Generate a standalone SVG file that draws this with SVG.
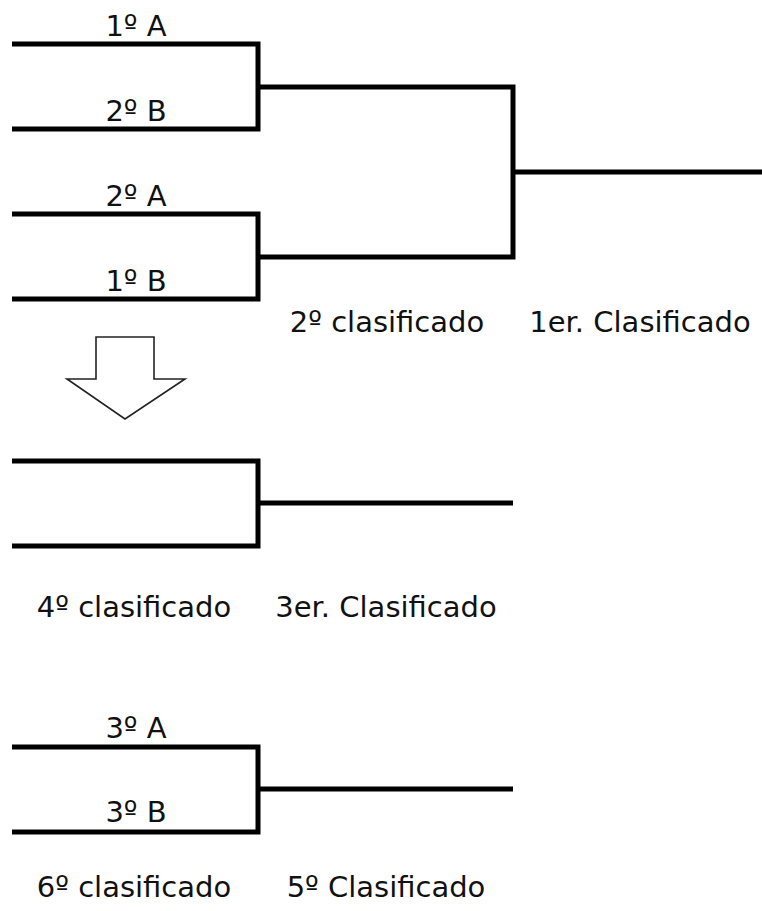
<svg xmlns="http://www.w3.org/2000/svg" width="762" height="911" viewBox="0 0 762 911">
<style>
.ln{fill:none;stroke:#000;stroke-width:5;stroke-linejoin:miter;stroke-linecap:butt}
.t{font-family:"DejaVu Sans","Verdana",sans-serif;font-size:29px;fill:#111;text-anchor:middle}
.arrow{fill:#fff;stroke:#222;stroke-width:1.6;stroke-linejoin:miter}
</style>
<rect width="762" height="911" fill="#fff"/>
<g id="connectors">
<polyline class="ln" points="12,44 258,44 258,129 12,129"/>
<polyline class="ln" points="12,214 258,214 258,299 12,299"/>
<polyline class="ln" points="258,87 513,87 513,257 258,257"/>
<line class="ln" x1="513" y1="172" x2="762" y2="172"/>
<polyline class="ln" points="12,461 258,461 258,546 12,546"/>
<line class="ln" x1="258" y1="503" x2="513" y2="503"/>
<polyline class="ln" points="12,747 258,747 258,832 12,832"/>
<line class="ln" x1="258" y1="789" x2="513" y2="789"/>
</g>
<g id="arrow-down">
<polygon class="arrow" points="96,337 154,337 154,379 185,379 125,419 67,379 96,379"/>
</g>
<g id="n-1A"><text class="t" x="136" y="36">1º A</text></g>
<g id="n-2B"><text class="t" x="136" y="121">2º B</text></g>
<g id="n-2A"><text class="t" x="136" y="206">2º A</text></g>
<g id="n-1B"><text class="t" x="136" y="291">1º B</text></g>
<g id="n-2clas"><text class="t" x="387" y="332">2º clasificado</text></g>
<g id="n-1clas"><text class="t" x="640" y="332">1er. Clasificado</text></g>
<g id="n-4clas"><text class="t" x="134" y="617">4º clasificado</text></g>
<g id="n-3clas"><text class="t" x="386" y="617">3er. Clasificado</text></g>
<g id="n-3A"><text class="t" x="136" y="738">3º A</text></g>
<g id="n-3B"><text class="t" x="136" y="822">3º B</text></g>
<g id="n-6clas"><text class="t" x="134" y="897">6º clasificado</text></g>
<g id="n-5clas"><text class="t" x="386" y="897">5º Clasificado</text></g>
</svg>
